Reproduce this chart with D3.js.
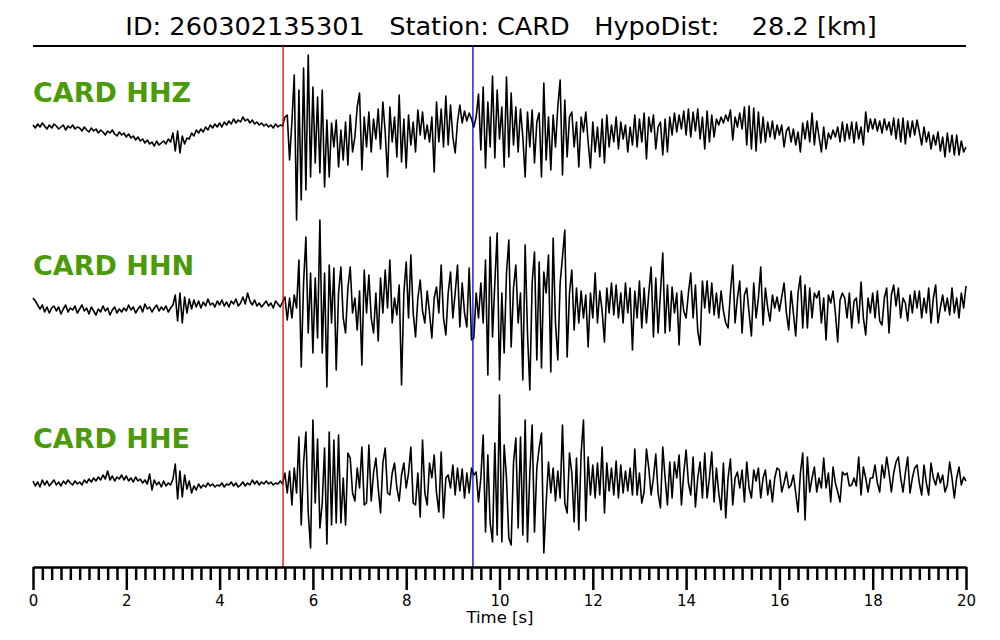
<!DOCTYPE html>
<html><head><meta charset="utf-8">
<script src="https://cdn.jsdelivr.net/npm/d3@7"></script>
<style>body{margin:0;background:#fff}</style>
</head><body>
<svg id="chart" width="1000" height="640"></svg>
<script>
// ---- data ----
const eventId = "260302135301";
const station = "CARD";
const hypoDist = 28.2;
const channels = ["HHZ", "HHN", "HHE"];
const sampleInterval = 0.05;   // seconds between samples
const pPick = 5.36;            // red marker [s]
const sPick = 9.43;            // blue marker [s]
const majorTicks = [0, 2, 4, 6, 8, 10, 12, 14, 16, 18, 20];
const minorStep = 0.2;
const xLabel = "Time [s]";

const hhz = [
 2,-1,3,0,4,1,-2,2,-1,3,1,-2,0,2,-3,1,-1,2,-2,0,
 -1,-4,0,-3,-5,-1,-4,-2,-6,-3,-5,-8,-4,-6,-3,-7,-9,-5,-8,-6,
 -10,-7,-11,-9,-13,-10,-14,-12,-16,-13,-17,-15,-19,-14,-18,-16,-14,-17,-12,-15,
 -6,-24,-4,-26,-9,-17,-11,-12,-6,-9,-3,-6,-2,-5,0,-3,2,-1,3,0,
 4,0,5,2,6,3,8,4,7,5,10,6,8,4,7,3,5,2,4,1,
 3,0,2,-1,3,0,2,1,10,12,-33,5,52,-93,37,-73,59,-63,72,-50,
 40,-36,30,-46,37,-60,7,-50,4,-20,7,-40,-3,-33,5,-38,12,-25,-10,20,
 34,-43,10,-20,15,-25,8,-12,18,-22,25,-5,-50,20,-15,10,-30,32,-35,8,
 -41,12,-18,5,-25,17,-8,15,-12,2,-15,10,-45,25,-15,18,-20,31,-18,22,
 -10,-26,5,22,4,16,6,14,8,0,10,33,-23,40,-41,25,-20,51,-31,37,
 -12,20,-40,50,-30,34,-18,20,-25,18,-10,-50,15,-20,17,-36,5,14,-50,44,
 -33,10,-43,12,-20,20,47,-48,27,-30,10,15,-20,5,-40,10,-5,15,-15,-41,
 5,-25,0,-30,8,-36,12,-20,2,-15,10,-22,5,-12,2,-25,0,-18,12,-20,
 8,-15,14,-32,10,-5,12,-22,0,5,-28,8,-25,10,-8,14,-5,12,-2,16,
 -8,18,-10,15,-4,18,-12,10,-22,16,-15,12,-10,8,2,10,4,12,6,17,
 -13,10,0,14,-2,20,-18,21,-22,19,-24,15,-16,10,-15,5,-10,6,-12,2,
 -8,2,-20,-4,0,-15,-2,-18,-5,-25,4,-12,6,-15,14,-18,6,-10,-25,0,
 -22,-6,-12,-3,-10,0,-15,5,-14,3,-12,5,-16,5,-12,0,-18,15,-5,8,
 -2,8,-4,6,-6,8,-3,5,-8,9,-12,8,-15,9,-17,6,-10,6,-8,7,
 -5,-18,0,-15,-5,-22,-8,-18,-5,-24,-10,-30,-6,-25,-8,-28,-8,-28,-14,-25,
 -20
];
const hhn = [
 5,2,-2,-6,-2,-9,-4,-10,-5,-3,-8,-4,-11,-6,-2,-9,-5,-7,-3,-10,
 -6,-2,-8,-5,-11,-4,-8,-12,-6,-9,-3,-8,-5,-12,-7,-4,-10,-6,-9,-5,
 -8,-2,-7,-4,-10,-6,-3,-9,-1,-6,-4,-9,-5,-2,-8,-4,-7,-3,-9,-5,
 -2,8,-18,10,-20,6,-10,4,-6,3,-4,2,-5,1,-3,4,-2,0,-4,2,
 -2,3,-3,1,-4,2,-1,4,-3,0,6,-1,10,2,-2,3,-3,0,-4,-1,
 2,-3,0,-5,2,-1,-4,1,6,-17,5,-15,8,-5,43,-64,20,66,-30,30,
 -50,25,-35,83,-50,30,-84,38,-20,35,-67,10,36,-15,-30,15,36,-10,5,-27,
 12,-62,33,-10,28,-15,-30,10,-38,25,-10,33,-5,43,-20,5,-12,18,-82,10,
 41,-15,48,-10,-34,5,23,-8,-20,12,-10,-35,5,16,-10,38,-15,-32,10,31,
 -15,10,38,-24,20,-10,-24,35,-37,-35,10,-15,20,-20,43,-72,66,-34,20,70,
 -77,10,-50,30,63,-44,15,38,-20,10,-77,58,-30,-87,20,51,-57,41,-65,31,
 10,48,-69,65,-20,-57,20,46,73,-54,10,33,-27,15,-20,12,-15,8,-44,10,
 -15,30,-20,12,-8,-39,15,-10,20,-12,18,-15,10,-20,20,-10,15,-47,12,-15,
 22,-25,15,-20,10,36,-34,25,-30,10,50,-30,18,-28,16,-10,10,-42,12,-8,
 -15,10,30,-15,18,-28,-42,22,-5,22,-10,20,-12,10,-15,12,-8,-20,-25,10,
 38,-20,5,22,-30,8,15,-10,-33,20,-15,5,36,-22,15,-5,-18,8,-5,6,
 -8,6,20,-10,-27,12,-10,-33,10,27,-25,18,-25,15,-15,10,5,12,-20,5,
 -37,8,0,12,-10,-39,3,10,5,-15,10,-25,2,5,-20,21,-15,-32,5,-10,
 10,-15,12,-18,-22,5,15,-30,8,18,-3,15,-15,5,0,-18,8,-10,12,-5,
 12,-15,5,-10,15,-20,5,18,-20,-5,8,-8,5,-12,15,-10,5,-15,10,-5,
 17
];
const hhe = [
 2,-3,1,-4,3,-2,2,-3,0,3,-2,1,-3,2,-1,3,0,-2,2,-1,
 1,-2,3,0,4,1,5,2,6,3,8,4,12,3,7,2,6,4,8,3,
 7,2,5,1,6,2,4,0,3,-1,9,-7,3,-2,1,-4,2,-3,0,-2,
 4,19,-16,12,-14,8,-6,2,-10,-3,-7,-1,-5,-2,-4,0,-3,-1,-4,-2,
 -3,0,-4,-1,-2,1,-3,0,-4,-2,1,-3,0,-2,3,-1,2,-2,1,-1,
 2,-1,1,-2,0,-1,2,-1,10,-10,12,-22,15,-10,46,-42,20,51,-30,-65,
 63,-20,44,-45,-20,35,-61,51,-42,43,-40,48,-40,5,-42,30,25,-10,-18,15,
 -5,36,-22,-20,38,-18,10,25,-5,-30,20,35,-10,-12,10,20,-5,-18,8,20,
 -5,10,36,-20,-22,10,-34,43,-10,-22,20,5,28,-10,-29,31,-35,5,8,-5,
 18,-12,15,-8,14,-15,10,-10,15,8,11,-19,5,48,-49,28,-40,-59,40,-52,
 88,-59,38,5,-55,-62,20,45,-45,46,-52,63,-59,10,58,-49,15,35,50,-70,
 -20,21,-10,15,-18,12,-15,58,-20,-30,30,10,-39,25,-47,30,63,-38,26,-12,
 18,-15,20,-12,36,-30,20,-8,15,-12,22,-15,18,-10,12,-8,15,-12,34,-12,
 10,-20,-9,34,15,-12,5,29,-10,-25,36,5,-22,21,-15,21,5,28,-22,10,
 33,0,-12,26,-24,5,21,-15,30,-15,5,31,-19,15,-10,-27,20,-35,5,24,
 -22,5,11,-5,13,-19,21,-5,-15,13,2,15,-15,5,13,-12,3,-19,5,15,
 13,-9,0,11,-5,-2,8,-10,-29,10,30,-37,26,-9,5,16,-9,5,-5,25,
 -5,10,-19,16,0,-9,-19,11,8,10,-3,-2,5,-3,26,-12,16,5,-9,5,
 5,18,0,-9,18,5,26,10,-9,10,21,26,5,-9,10,26,-10,5,15,18,
 0,-12,18,0,-12,20,5,-2,10,0,8,-9,-2,21,5,-15,5,16,-2,6,
 2
];
const traces = [hhz, hhn, hhe];

// ---- layout ----
const svg = d3.select("#chart");
const FONT = "DejaVu Sans, Liberation Sans, sans-serif";
const x = d3.scaleLinear().domain([0, 20]).range([33, 966]);
const centers = [127, 303, 483];
const labelBaselines = [102, 275, 448];
const plotTop = 46, axisY = 567;

// title
svg.append("text")
  .attr("x", 501).attr("y", 35)
  .attr("text-anchor", "middle")
  .style("font-family", FONT).style("font-size", "25.6px")
  .style("white-space", "pre")
  .text(`ID: ${eventId}   Station: ${station}   HypoDist:    ${hypoDist.toFixed(1)} [km]`);

svg.append("line")
  .attr("x1", x(0)).attr("x2", x(20))
  .attr("y1", plotTop).attr("y2", plotTop)
  .attr("stroke", "#000").attr("stroke-width", 1.8);

// traces
traces.forEach((vals, i) => {
  const y = d3.scaleLinear().domain([-100, 100]).range([centers[i] + 100, centers[i] - 100]);
  const line = d3.line()
    .x((d, j) => x(j * sampleInterval))
    .y(d => y(d));
  svg.append("path")
    .datum(vals)
    .attr("d", line)
    .attr("fill", "none")
    .attr("stroke", "#000")
    .attr("stroke-width", 1.6)
    .attr("stroke-linejoin", "round");
  svg.append("text")
    .attr("x", 33).attr("y", labelBaselines[i])
    .style("font-family", FONT).style("font-size", "27px").style("font-weight", "bold")
    .attr("fill", "#4b9a08")
    .text(`${station} ${channels[i]}`);
});

// picks
[[pPick, "#ee0000"], [sPick, "#0000dd"]].forEach(([t, c]) => {
  svg.append("line")
    .attr("x1", x(t)).attr("x2", x(t))
    .attr("y1", plotTop).attr("y2", axisY)
    .attr("stroke", c).attr("stroke-width", 1.3);
});

// axis
const minorTicks = d3.range(0, 20 + 1e-9, minorStep).filter(v => Math.abs(v / 2 - Math.round(v / 2)) > 1e-6);
const gMinor = svg.append("g").attr("transform", `translate(0,${axisY})`)
  .call(d3.axisBottom(x).tickValues(minorTicks).tickSize(13).tickSizeOuter(0).tickFormat(""));
const gMajor = svg.append("g").attr("transform", `translate(0,${axisY})`)
  .call(d3.axisBottom(x).tickValues(majorTicks).tickSize(23).tickSizeOuter(0).tickPadding(5).tickFormat(d3.format("d")));
[gMinor, gMajor].forEach(g => {
  g.select(".domain").attr("stroke", "#000").attr("stroke-width", 2);
  g.selectAll(".tick line").attr("stroke", "#000").attr("stroke-width", 2.5);
  g.selectAll(".tick text").style("font-family", FONT).style("font-size", "15px").attr("fill", "#000");
});
svg.append("text")
  .attr("x", 500).attr("y", 623)
  .attr("text-anchor", "middle")
  .style("font-family", FONT).style("font-size", "16.5px")
  .text(xLabel);
</script>
</body></html>
